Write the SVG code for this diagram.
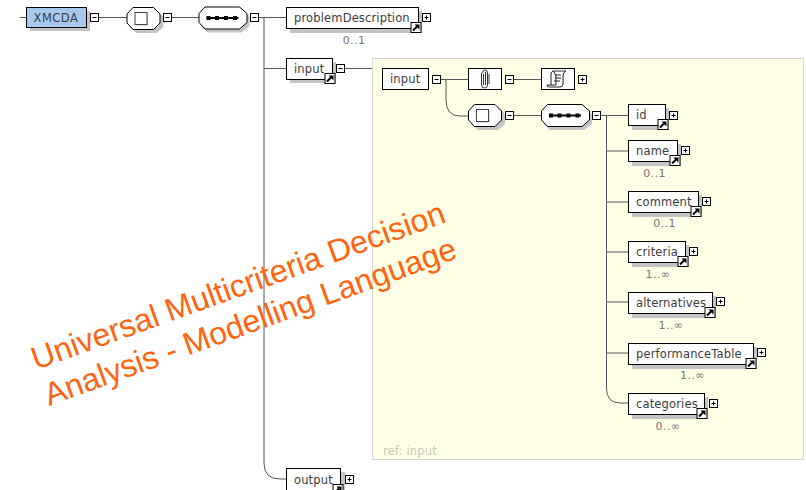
<svg xmlns="http://www.w3.org/2000/svg" width="806" height="490" viewBox="0 0 806 490">
<style>
.b{fill:#fff;stroke:#000;stroke-width:1}
.s{fill:#c4c4c4;stroke:none}
.c{fill:none;stroke:#555;stroke-width:1}
.t{font-family:"DejaVu Sans",sans-serif;font-size:11.500px;fill:#3c3c3c;letter-spacing:.15px}
.o{font-family:"DejaVu Sans",sans-serif;font-size:11px;fill:#777;text-anchor:middle;letter-spacing:.4px}
.w{font-family:"Liberation Sans",Arial,sans-serif;font-size:32px;fill:#ff6410}
</style>
<defs>
<g id="minus"><rect x=".5" y=".5" width="8" height="8" fill="#fff" stroke="#000"/><path d="M2.500 4.500H6.500" stroke="#000"/></g>
<g id="plus"><rect x=".5" y=".5" width="8" height="8" fill="#fff" stroke="#000"/><path d="M2.500 4.500H6.500M4.500 2.500V6.500" stroke="#000"/></g>
<g id="link"><rect x=".5" y=".5" width="10" height="10" fill="#fff" stroke="#000"/><path d="M2.500 8.500L6.500 4.500" stroke="#000" stroke-width="2"/><path d="M4 2.500H9V7.500Z" fill="#000"/></g>
<g id="choice"><path d="M10 3H30L37 10V20L30 26H10L3 20V10Z" class="s"/><path d="M6.500 .5H27L33.500 7V16L27 22.500H6.500L.5 16V7Z" class="b"/><rect x="9.500" y="6.500" width="12" height="12" fill="#c4c4c4"/><rect x="8.500" y="5.500" width="12" height="12" fill="#fff" stroke="#444"/></g>
<g id="seq"><path d="M9 3H43L51 10V20L43 26H9L3 20V10Z" class="s"/><path d="M6.500 .5H41L48.500 7V16L41 22.500H6.500L.5 16V7Z" class="b"/><path d="M8 11.500H40" stroke="#000" stroke-width="2"/><g fill="#000"><rect x="8" y="9.500" width="4" height="4"/><rect x="16.500" y="9.500" width="4" height="4"/><rect x="25.500" y="9.500" width="4" height="4"/><rect x="34.500" y="9.500" width="4" height="4"/></g></g>
</defs>

<g id="panel-input"><rect x="372.500" y="58.500" width="431" height="401" fill="#ffffe6" stroke="#d8d8cc"/><text x="383" y="455" class="t" style="fill:#c8c8b4">ref: input</text></g>

<g id="connectors">
<path class="c" d="M20 17.500H26M99 17.500H127M172 17.500H199M259 17.500H286M264 18V463Q264 479 280 479H286M264 68.500H286M345 68.500H372"/>
<path class="c" d="M441 79.500H468M446 80V100Q446 116 460 116H468M514 79.500H541M514 115.500H541M601 115.500H628M606.500 116V388Q606.500 403 620 403H628M607 151H628M607 202H628M607 252H628M607 302H628M607 353H628"/>
</g>

<g id="node-xmcda"><rect class="s" x="30" y="11" width="60" height="20"/><rect x="26.500" y="7.500" width="60" height="20" fill="#a8c8f0" stroke="#000"/><text x="33.500" y="22" class="t" style="letter-spacing:.5px">XMCDA</text><use href="#minus" x="90" y="13"/></g>
<g id="node-choice1"><use href="#choice" x="126.500" y="7"/><use href="#minus" x="163" y="13"/></g>
<g id="node-seq1"><use href="#seq" x="198.500" y="6.500"/><use href="#minus" x="250" y="13"/></g>

<g id="node-problemDescription"><rect class="s" x="290" y="11" width="132" height="22"/><rect class="b" x="286.500" y="7.500" width="132" height="21"/><text x="294" y="22" class="t">problemDescription</text><use href="#link" x="410.500" y="22"/><use href="#plus" x="422" y="13"/><text x="354" y="44" class="o">0..1</text></g>
<g id="node-input"><rect class="s" x="290" y="62" width="46" height="21"/><rect class="b" x="286.500" y="58.500" width="46" height="21"/><text x="294" y="73" class="t">input</text><use href="#link" x="324.500" y="73"/><use href="#minus" x="336" y="64"/></g>
<g id="node-output"><rect class="s" x="290" y="472" width="55" height="18"/><rect class="b" x="286.500" y="468.500" width="54" height="24"/><text x="294" y="484" class="t">output</text><use href="#link" x="332.500" y="484"/><use href="#plus" x="345" y="475"/></g>

<g id="node-input-inner"><rect class="b" x="382.500" y="68.500" width="46" height="21"/><text x="390" y="83" class="t">input</text><use href="#minus" x="432" y="75"/></g>
<g id="node-all"><rect class="b" x="468.500" y="68.500" width="33" height="21"/><g fill="none" stroke="#333"><path d="M481.500 73V85Q481.500 88 484.500 88T487.500 85V73Q487.500 70 485 70T482.500 73"/><path d="M483.500 74V85M485.500 72V85M489 74V84"/></g><use href="#minus" x="505" y="75"/></g>
<g id="node-script"><rect class="b" x="541.500" y="68.500" width="33" height="21"/><path d="M553 71H566Q563 72 563 76V84Q563 87 560 87H549Q547 87 547 85H556V76Q553 70 553 71ZM553 71Q551 72 551 74V85" fill="#fff" stroke="#222"/><path d="M555 75H561M555 78H561M554 81H560" stroke="#222"/><use href="#plus" x="578" y="75"/></g>
<g id="node-choice2"><use href="#choice" x="468" y="104"/><use href="#minus" x="505" y="111"/></g>
<g id="node-seq2"><use href="#seq" x="541" y="104"/><use href="#minus" x="592" y="111"/></g>

<g id="node-id"><rect class="s" x="632" y="108" width="37" height="22"/><rect class="b" x="628.500" y="104.500" width="37" height="21"/><text x="636" y="119" class="t">id</text><use href="#link" x="657.500" y="119"/><use href="#plus" x="669" y="111"/></g>
<g id="node-name"><rect class="s" x="632" y="144" width="49" height="22"/><rect class="b" x="628.500" y="140.500" width="49" height="21"/><text x="636" y="155" class="t">name</text><use href="#link" x="669.500" y="155"/><use href="#plus" x="681" y="146"/><text x="654.500" y="177" class="o">0..1</text></g>
<g id="node-comment"><rect class="s" x="632" y="195" width="70" height="22"/><rect class="b" x="628.500" y="191.500" width="70" height="21"/><text x="636" y="206" class="t">comment</text><use href="#link" x="690.500" y="206"/><use href="#plus" x="702" y="197"/><text x="664.500" y="227" class="o">0..1</text></g>
<g id="node-criteria"><rect class="s" x="632" y="245" width="57" height="22"/><rect class="b" x="628.500" y="241.500" width="57" height="21"/><text x="636" y="256" class="t">criteria</text><use href="#link" x="677.500" y="256"/><use href="#plus" x="689" y="247"/><text x="658" y="278" class="o">1..∞</text></g>
<g id="node-alternatives"><rect class="s" x="632" y="296" width="84" height="22"/><rect class="b" x="628.500" y="292.500" width="84" height="21"/><text x="636" y="307" class="t">alternatives</text><use href="#link" x="704.500" y="307"/><use href="#plus" x="716" y="297"/><text x="671" y="329" class="o">1..∞</text></g>
<g id="node-performanceTable"><rect class="s" x="632" y="347" width="125" height="22"/><rect class="b" x="628.500" y="343.500" width="125" height="21"/><text x="636" y="358" class="t">performanceTable</text><use href="#link" x="745.500" y="358"/><use href="#plus" x="757" y="348"/><text x="692.500" y="379" class="o">1..∞</text></g>
<g id="node-categories"><rect class="s" x="632" y="397" width="76" height="22"/><rect class="b" x="628.500" y="393.500" width="76" height="21"/><text x="636" y="408" class="t">categories</text><use href="#link" x="696.500" y="408"/><use href="#plus" x="709" y="399"/><text x="668" y="430" class="o">0..∞</text></g>

<g id="watermark"><text class="w" transform="translate(36 370) rotate(-19.800)">Universal Multicriteria Decision</text><text class="w" transform="translate(49 406) rotate(-19.900)">Analysis - Modelling Language</text></g>
</svg>
